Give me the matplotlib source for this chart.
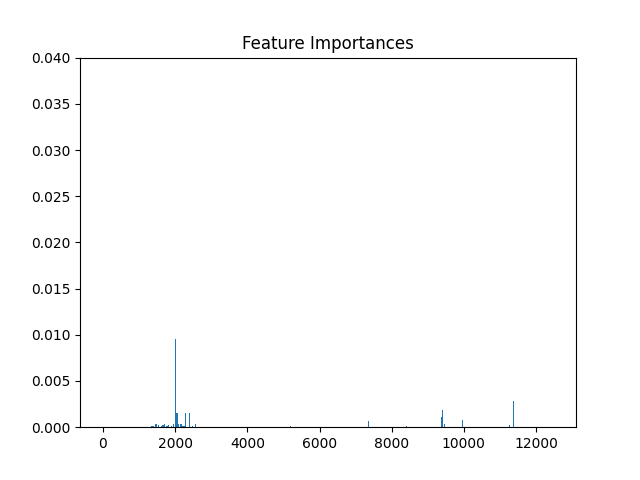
import numpy as np
import matplotlib
matplotlib.use("Agg")
import matplotlib.pyplot as plt

n_features = 12500
# non-zero feature indices and their importances
feat_idx = [1344, 1386, 1469, 1552, 1608, 1663, 1718, 1774, 1829, 1885,
            1954, 2004, 2051, 2093, 2162, 2190, 2245, 2300, 2384, 2411,
            2494, 2550, 5210, 7345, 8398, 9368, 9404, 9451, 9950, 11253, 11364]
feat_imp = [0.0001, 0.0001, 0.0004, 0.0002, 0.0001, 0.0002, 0.0003, 0.0001, 0.0002, 0.0001,
            0.0004, 0.0095, 0.0015, 0.0003, 0.0003, 0.0001, 0.0001, 0.0015, 0.0015, 0.0011,
            0.0001, 0.0003, 0.0001, 0.0007, 0.00015, 0.0011, 0.0019, 0.00035, 0.0008, 0.00025, 0.0028]

importances = np.zeros(n_features)
importances[feat_idx] = feat_imp

plt.figure(figsize=(6.4, 4.8), dpi=100)
plt.title("Feature Importances")
# bars are ~0.03 px wide at this scale, widen them so each one shows as a 1px line
plt.bar(range(n_features), importances, width=28)
plt.xlim(-637, 13108)
plt.ylim(0, 0.04)
plt.savefig("out.png")
